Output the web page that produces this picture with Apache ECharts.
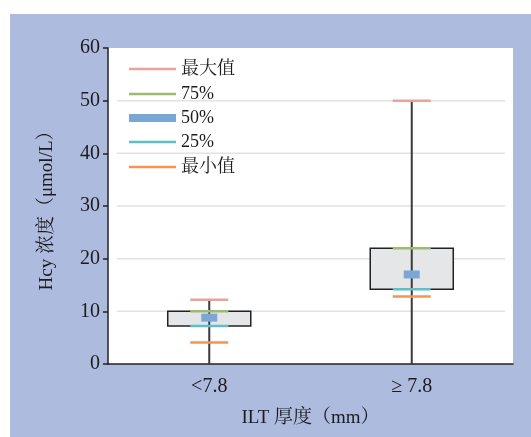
<!DOCTYPE html>
<html>
<head>
<meta charset="utf-8">
<script src="https://cdn.jsdelivr.net/npm/echarts@6/dist/echarts.min.js"></script>
<style>
html,body{margin:0;padding:0;background:#fff;}
#c{width:531px;height:437px;background:linear-gradient(#adbbdf,#adbbdf) 10px 14px / 521px 423px no-repeat, #fff;}
</style>
</head>
<body>
<div id="c"></div>
<script>
const categories = ['<7.8', '≥ 7.8'];
const maxVals = [12.2, 50];
const q3Vals = [10, 22];
const medianVals = [8.8, 17];
const q1Vals = [7.2, 14.2];
const minVals = [4.1, 12.8];
const gridVals = [10, 20, 30, 40, 50];
const legendNames = ['最大值', '75%', '50%', '25%', '最小值'];

const FONT = "'Liberation Serif', 'Noto Serif CJK SC', 'Noto Sans CJK SC', serif";
const TXT = '#1c1c1c';
const colors = {
  '最大值': '#e8a39c',
  '75%': '#9dbb6e',
  '50%': '#7ba7d6',
  '25%': '#5fbfc7',
  '最小值': '#f29558'
};

function markerLine(params, api) {
  const p = api.coord([api.value(0), api.value(1)]);
  const band = api.size([1, 0])[0];
  const half = band * 0.094;
  return {
    type: 'line',
    shape: {x1: p[0] - half, y1: p[1], x2: p[0] + half, y2: p[1]},
    style: {stroke: api.visual('color'), lineWidth: 2.5}
  };
}
function markerSeries(name, vals) {
  return {
    name: name, type: 'custom', z: 4, silent: true,
    itemStyle: {color: colors[name]},
    renderItem: markerLine,
    encode: {x: 0, y: 1},
    data: categories.map((c, i) => [i, vals[i]])
  };
}

const chart = echarts.init(document.getElementById('c'), null, {renderer: 'canvas'});
const legendTops = [59, 84, 108, 132, 157];
const legendHeights = [2.5, 2.5, 8, 2.5, 2.5];

const option = {
  backgroundColor: 'transparent',
  animation: false,
  textStyle: {fontFamily: FONT},
  grid: {show: true, backgroundColor: '#fff', borderWidth: 0, left: 108, right: 18, top: 48, bottom: 73},
  legend: legendNames.map((n, i) => ({
    left: 129, top: legendTops[i], padding: 0, orient: 'vertical',
    selectedMode: false,
    itemWidth: 47, itemHeight: legendHeights[i],
    icon: 'rect',
    data: [n],
    textStyle: {fontSize: 18, color: TXT, fontFamily: FONT, lineHeight: 20}
  })),
  xAxis: {
    type: 'category', data: categories,
    axisLine: {lineStyle: {color: '#222', width: 1.5}},
    axisTick: {inside: true, length: 5, lineStyle: {color: '#222', width: 1.5}},
    axisLabel: {fontSize: 20, color: TXT, margin: 13, fontFamily: FONT},
    name: 'ILT 厚度（mm）', nameLocation: 'middle', nameGap: 45,
    nameTextStyle: {fontSize: 19, color: TXT, fontFamily: FONT}
  },
  yAxis: {
    type: 'value', min: 0, max: 60, interval: 10,
    axisLine: {show: true, lineStyle: {color: '#222', width: 1.5}},
    axisTick: {show: true, length: 5, lineStyle: {color: '#222', width: 1.5}},
    axisLabel: {fontSize: 20, color: TXT, margin: 8, fontFamily: FONT},
    splitLine: {show: false},
    name: 'Hcy 浓度（μmol/L）', nameLocation: 'middle', nameGap: 51,
    nameTextStyle: {fontSize: 19, color: TXT, fontFamily: FONT}
  },
  series: [
    {
      name: 'grid', type: 'custom', z: 1, silent: true,
      renderItem: function (params, api) {
        const cs = params.coordSys;
        const y = api.coord([0, api.value(1)])[1];
        return {type: 'line', shape: {x1: cs.x + 9, y1: y, x2: cs.x + cs.width - 8, y2: y},
          style: {stroke: '#e2e2e2', lineWidth: 1.5}};
      },
      encode: {x: 0, y: 1},
      data: gridVals.map(v => [0, v])
    },
    {
      name: 'box', type: 'custom', z: 2, silent: true,
      renderItem: function (params, api) {
        const x = api.value(0);
        const pMax = api.coord([x, api.value(1)]);
        const pQ3 = api.coord([x, api.value(2)]);
        const pQ1 = api.coord([x, api.value(3)]);
        const p0 = api.coord([x, 0]);
        const band = api.size([1, 0])[0];
        const w = band * 0.41;
        return {type: 'group', children: [
          {type: 'rect', shape: {x: pQ3[0] - w / 2, y: pQ3[1], width: w, height: pQ1[1] - pQ3[1]},
            style: {fill: '#e5e6e8', stroke: '#222', lineWidth: 1.5}},
          {type: 'line', shape: {x1: p0[0], y1: p0[1], x2: pMax[0], y2: pMax[1]},
            style: {stroke: '#3a3a3a', lineWidth: 2}}
        ]};
      },
      encode: {x: 0, y: [1, 2, 3]},
      data: categories.map((c, i) => [i, maxVals[i], q3Vals[i], q1Vals[i]])
    },
    markerSeries('最大值', maxVals),
    markerSeries('75%', q3Vals),
    {
      name: '50%', type: 'custom', z: 5, silent: true,
      itemStyle: {color: colors['50%']},
      renderItem: function (params, api) {
        const p = api.coord([api.value(0), api.value(1)]);
        return {type: 'rect', shape: {x: p[0] - 8, y: p[1] - 4, width: 16, height: 8},
          style: {fill: api.visual('color')}};
      },
      encode: {x: 0, y: 1},
      data: categories.map((c, i) => [i, medianVals[i]])
    },
    markerSeries('25%', q1Vals),
    markerSeries('最小值', minVals)
  ]
};
chart.setOption(option);
</script>
</body>
</html>
